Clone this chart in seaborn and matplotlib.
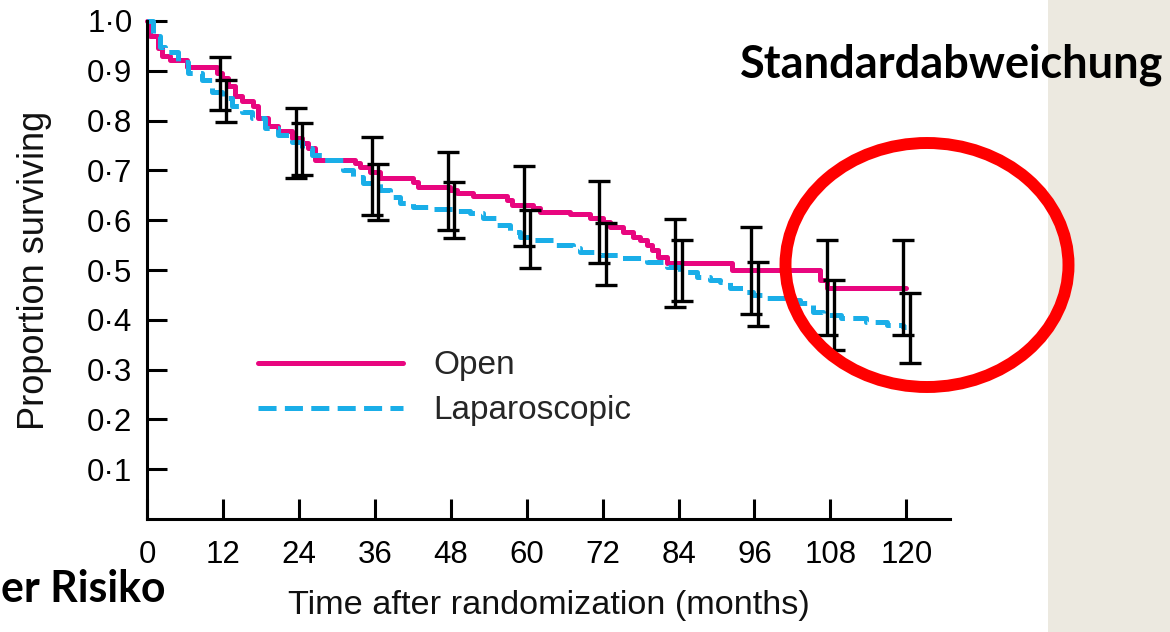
import numpy as np
import pandas as pd
import matplotlib
matplotlib.use("Agg")
import matplotlib.pyplot as plt
from matplotlib.lines import Line2D
from matplotlib.patches import Ellipse, Rectangle
import seaborn as sns

# Kaplan-Meier estimates (months after randomization, proportion surviving)
open_time = [0, 0.5, 1.7, 2.4, 3.6, 6.3, 11.1, 11.8, 12.8, 13.9, 15.0, 16.7, 17.5,
             19.1, 20.7, 22.9, 24.5, 25.4, 26.5, 32.9, 33.6, 35.2, 36.8, 42.0,
             42.8, 47.9, 49.0, 51.5, 56.9, 57.7, 61.0, 62.1, 66.8, 70.0, 72.0,
             73.1, 75.2, 76.8, 77.9, 79.0, 79.8, 80.7, 82.1, 92.4, 106.3, 107.4,
             120.0]
open_surv = [1.0, 0.97, 0.945, 0.93, 0.922, 0.908, 0.895, 0.885, 0.87, 0.85, 0.84,
             0.83, 0.805, 0.79, 0.78, 0.765, 0.755, 0.745, 0.72, 0.715, 0.707,
             0.697, 0.685, 0.677, 0.667, 0.66, 0.655, 0.648, 0.64, 0.63, 0.624,
             0.617, 0.612, 0.605, 0.597, 0.586, 0.576, 0.566, 0.56, 0.55, 0.54,
             0.526, 0.514, 0.50, 0.48, 0.464, 0.464]

lap_time = [0, 1.0, 2.1, 2.8, 4.9, 6.5, 8.7, 10.3, 11.8, 13.4, 15.0, 16.6, 18.6,
            20.7, 22.9, 24.5, 26.1, 27.6, 31.0, 32.5, 34.1, 36.8, 38.4, 40.0,
            42.0, 45.2, 49.0, 51.0, 53.1, 55.3, 57.3, 58.9, 60.5, 64.1, 67.3,
            68.4, 71.6, 74.7, 79.0, 82.1, 84.2, 86.9, 88.9, 90.5, 92.1, 94.2,
            95.7, 97.9, 101.1, 103.2, 105.2, 106.8, 109.6, 113.7, 116.9, 119.4,
            120.0]
lap_surv = [1.0, 0.97, 0.948, 0.938, 0.918, 0.895, 0.882, 0.857, 0.845, 0.83,
            0.817, 0.805, 0.785, 0.771, 0.757, 0.745, 0.73, 0.72, 0.70, 0.687,
            0.675, 0.66, 0.647, 0.634, 0.627, 0.622, 0.618, 0.614, 0.604, 0.59,
            0.576, 0.566, 0.56, 0.55, 0.544, 0.536, 0.53, 0.524, 0.516, 0.506,
            0.496, 0.486, 0.48, 0.476, 0.464, 0.456, 0.45, 0.444, 0.44, 0.434,
            0.416, 0.41, 0.404, 0.396, 0.39, 0.386, 0.386]

# Confidence limits at yearly intervals
eb_months = [12, 24, 36, 48, 60, 72, 84, 96, 108, 120]
open_lo = [0.821, 0.685, 0.610, 0.580, 0.548, 0.514, 0.426, 0.412, 0.369, 0.369]
open_hi = [0.928, 0.825, 0.768, 0.737, 0.709, 0.679, 0.602, 0.586, 0.560, 0.560]
lap_lo = [0.797, 0.690, 0.600, 0.564, 0.504, 0.470, 0.438, 0.388, 0.339, 0.313]
lap_hi = [0.882, 0.795, 0.713, 0.677, 0.620, 0.594, 0.560, 0.516, 0.480, 0.454]

groups = ["Open", "Laparoscopic"]
x_ticks = [0, 12, 24, 36, 48, 60, 72, 84, 96, 108, 120]
x_tick_labels = ["0", "12", "24", "36", "48", "60", "72", "84", "96", "108", "120"]
y_ticks = [0.1, 0.2, 0.3, 0.4, 0.5, 0.6, 0.7, 0.8, 0.9, 1.0]
y_tick_labels = ["0·1", "0·2", "0·3", "0·4", "0·5", "0·6", "0·7", "0·8", "0·9", "1·0"]

MAGENTA = "#E8067F"
CYAN = "#1AAEE8"
LAP_DASH = (13, 6)

sns.set_theme(style="ticks")
plt.rcParams["font.family"] = ["Liberation Sans", "DejaVu Sans"]
plt.rcParams["lines.scale_dashes"] = False

df = pd.concat([
    pd.DataFrame({"month": open_time, "surv": open_surv, "group": "Open"}),
    pd.DataFrame({"month": lap_time, "surv": lap_surv, "group": "Laparoscopic"}),
], ignore_index=True)

fig = plt.figure(figsize=(11.7, 6.32), dpi=100)
fig.patch.set_facecolor("white")

# beige side panel
fig.add_artist(Rectangle((1048 / 1170, 0), 1 - 1048 / 1170, 1,
                         transform=fig.transFigure, facecolor="#ECE9E0",
                         edgecolor="none", zorder=-5))

ax = fig.add_axes([147 / 1170, 1 - 519 / 632, 803 / 1170, 498 / 632])
ax.set_facecolor("none")

sns.lineplot(data=df, x="month", y="surv", hue="group", style="group",
             hue_order=groups, style_order=groups,
             palette={"Open": MAGENTA, "Laparoscopic": CYAN},
             dashes={"Open": "", "Laparoscopic": LAP_DASH},
             drawstyle="steps-post", linewidth=3.6, errorbar=None,
             legend=False, clip_on=False, ax=ax)

for lo, hi, shift in [(open_lo, open_hi, -0.5), (lap_lo, lap_hi, 0.5)]:
    lo = np.array(lo)
    hi = np.array(hi)
    mid = (lo + hi) / 2
    ax.errorbar(np.array(eb_months) + shift, mid, yerr=[mid - lo, hi - mid],
                fmt="none", ecolor="black", elinewidth=2.4, capsize=8,
                capthick=2.4, zorder=4, clip_on=False)

ax.set_xlim(0, 126.9)
ax.set_ylim(0, 1.0)
ax.set_xticks(x_ticks)
ax.set_xticklabels(x_tick_labels)
ax.set_yticks(y_ticks)
ax.set_yticklabels(y_tick_labels)

sns.despine(ax=ax)
for side in ["left", "bottom"]:
    ax.spines[side].set_linewidth(2.2)
    ax.spines[side].set_color("black")
ax.tick_params(axis="both", direction="in", length=14.4, width=2.2,
               colors="black", labelsize=22.5)
ax.tick_params(axis="x", pad=15)
ax.tick_params(axis="y", pad=10.5)

ax.set_xlabel("Time after randomization (months)", fontsize=24.7, color="#111111")
ax.set_ylabel("Proportion surviving", fontsize=26, color="#111111")
ax.xaxis.set_label_coords(0.5, -0.142)
ax.yaxis.set_label_coords(-0.118, 0.5)

handles = [
    Line2D([], [], color=MAGENTA, lw=3.6),
    Line2D([], [], color=CYAN, lw=3.6, dashes=LAP_DASH),
]
ax.legend(handles, groups, loc="upper left", bbox_to_anchor=(0.138, 0.339),
          frameon=False, fontsize=24, handlelength=4.36, handletextpad=0.9,
          labelspacing=0.42, borderpad=0, borderaxespad=0)

# annotations around the chart
fig.text(740 / 1170, 1 - 77 / 632, "Standardabweichung", fontsize=32.5,
         fontweight="bold", family=["Lato", "DejaVu Sans"], ha="left",
         va="baseline", color="black")
fig.text(1 / 1170, 1 - 602 / 632, "er Risiko", fontsize=30.8,
         fontweight="bold", family=["Lato", "DejaVu Sans"], ha="left",
         va="baseline", color="black")

fig.add_artist(Ellipse((927 / 1170, 1 - 265 / 632), 283 / 1170, 244 / 632,
                       transform=fig.transFigure, facecolor="none",
                       edgecolor="#FF0000", linewidth=8.6, zorder=10))

fig.savefig("out.png", dpi=100)
